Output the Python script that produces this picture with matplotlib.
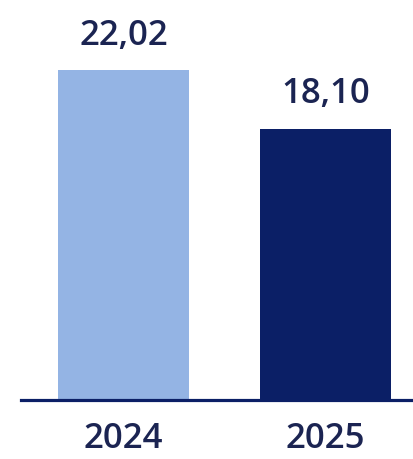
import matplotlib.pyplot as plt

years = ["2024", "2025"]
values = [22.02, 18.10]
labels = ["22,02", "18,10"]
colors = ["#94b4e4", "#0b1f66"]
navy = "#0b1f66"
text_color = "#1b2452"

fig = plt.figure(figsize=(4.13, 4.6), dpi=100)
ax = fig.add_axes([21 / 413, 59 / 460, 392 / 413, 401 / 460])

x = range(len(years))
bars = ax.bar(x, values, width=0.65, color=colors, zorder=2)
ax.axhline(0, color=navy, lw=2.3, zorder=3, clip_on=False)

for b, lab in zip(bars, labels):
    ax.annotate(lab, (b.get_x() + b.get_width() / 2, b.get_height()),
                xytext=(0, 19), textcoords="offset points",
                ha="center", va="baseline", fontsize=25,
                fontweight="semibold", family="Open Sans", color=text_color)

ax.set_xlim(-0.507, 1.433)
ax.set_ylim(0, 26.76)
ax.set_xticks(list(x))
ax.set_xticklabels(years, fontsize=25, fontweight="semibold",
                   family="Open Sans", color=text_color)
ax.tick_params(axis="x", length=0, pad=15)
ax.set_yticks([])
for s in ax.spines.values():
    s.set_visible(False)

fig.savefig("out.png", dpi=100)
